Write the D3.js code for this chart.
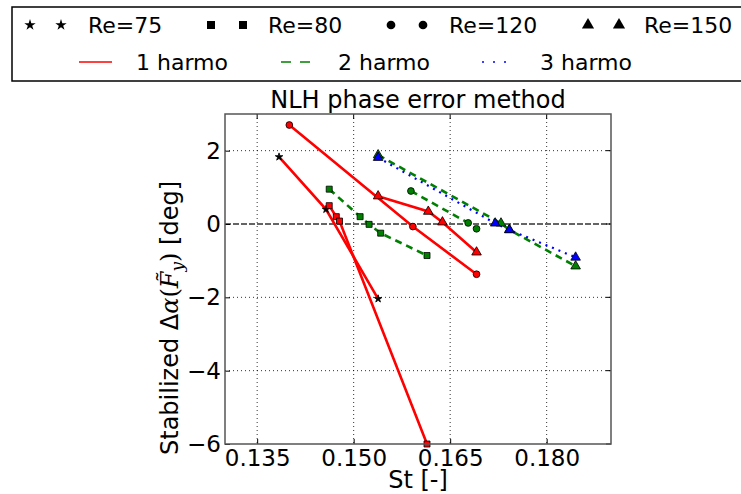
<!DOCTYPE html>
<html><head><meta charset="utf-8">
<script src="https://cdn.jsdelivr.net/npm/d3@7"></script>
<style>body{margin:0;background:#fff} text{font-family:"DejaVu Sans",sans-serif;fill:#000}</style>
</head><body><svg id="c" width="741" height="494"></svg>
<script>
const reLabels = ["Re=75","Re=80","Re=120","Re=150"];
const harmoLabels = ["1 harmo","2 harmo","3 harmo"];
const xTicks = [0.135,0.150,0.165,0.180];
const yTicks = [-6,-4,-2,0,2];

// Re=75
const st75h1 = [0.1384,0.1457,0.1538];
const da75h1 = [1.83,0.40,-2.04];
// Re=80
const st80h1 = [0.1462,0.1473,0.1478,0.1614];
const da80h1 = [0.50,0.20,0.08,-6.0];
const st80h2 = [0.1462,0.1510,0.1524,0.1542,0.1614];
const da80h2 = [0.95,0.20,-0.01,-0.25,-0.86];
// Re=120
const st120h1 = [0.1400,0.1592,0.1691];
const da120h1 = [2.70,-0.07,-1.37];
const st120h2 = [0.1589,0.1678,0.1691];
const da120h2 = [0.90,0.03,-0.13];
// Re=150
const st150h1 = [0.1538,0.1616,0.1638,0.1691];
const da150h1 = [0.76,0.34,0.05,-0.77];
const st150h2 = [0.1538,0.1729,0.1742,0.1845];
const da150h2 = [1.88,0.02,-0.16,-1.15];
const st150h3 = [0.1538,0.1720,0.1742,0.1845];
const da150h3 = [1.81,0.02,-0.16,-0.91];

const harmoColors = ["#ff0000","#008000","#0000ff"];
const harmoDash = [null,"7,5","2,5"];
const reSymbols = [d3.symbolStar,d3.symbolSquare,d3.symbolCircle,d3.symbolTriangle];
const reSizes = [18,36,36,40];

const series = [
  {re:0,h:0,st:st75h1,da:da75h1},
  {re:1,h:0,st:st80h1,da:da80h1},
  {re:1,h:1,st:st80h2,da:da80h2},
  {re:2,h:0,st:st120h1,da:da120h1},
  {re:2,h:1,st:st120h2,da:da120h2},
  {re:3,h:0,st:st150h1,da:da150h1},
  {re:3,h:1,st:st150h2,da:da150h2},
  {re:3,h:2,st:st150h3,da:da150h3}
];

const svg = d3.select("#c");
const L=225,R=611,T=114,B=444;
const x = d3.scaleLinear().domain([0.13,0.19]).range([L,R]);
const y = d3.scaleLinear().domain([-6,3]).range([B,T]);

svg.append("defs").append("clipPath").attr("id","clip")
  .append("rect").attr("x",L).attr("y",T).attr("width",R-L).attr("height",B-T);

// grid
const grid = svg.append("g");
grid.selectAll("line.gx").data(xTicks).join("line")
  .attr("x1",d=>x(d)).attr("x2",d=>x(d)).attr("y1",T).attr("y2",B)
  .attr("stroke","#000").attr("stroke-width",1).attr("stroke-dasharray","1,3").attr("opacity",0.8);
grid.selectAll("line.gy").data(yTicks.filter(v=>v!==0 && v!==-6)).join("line")
  .attr("x1",L).attr("x2",R).attr("y1",d=>y(d)).attr("y2",d=>y(d))
  .attr("stroke","#000").attr("stroke-width",1).attr("stroke-dasharray","1,3").attr("opacity",0.8);

// zero line
svg.append("line").attr("x1",L).attr("x2",R).attr("y1",y(0)).attr("y2",y(0))
  .attr("stroke","#333").attr("stroke-width",1.5).attr("stroke-dasharray","6,2");

// series
const plot = svg.append("g").attr("clip-path","url(#clip)");
const line = d3.line().x(d=>x(d[0])).y(d=>y(d[1]));
series.forEach(s=>{
  const pts = s.st.map((v,i)=>[v,s.da[i]]);
  plot.append("path").datum(pts).attr("d",line).attr("fill","none")
    .attr("stroke",harmoColors[s.h]).attr("stroke-width",s.h===2?2.2:2.6)
    .attr("stroke-dasharray",harmoDash[s.h]);
  svg.append("g").selectAll("path").data(pts).join("path")
    .attr("d",d3.symbol().type(reSymbols[s.re]).size(reSizes[s.re]))
    .attr("transform",d=>`translate(${x(d[0])},${y(d[1])})`)
    .attr("fill",s.re===0?"#000":harmoColors[s.h]).attr("stroke","#000").attr("stroke-width",0.8);
});

// axes
const ax = svg.append("g").attr("transform",`translate(0,${B})`)
  .call(d3.axisBottom(x).tickValues(xTicks).tickFormat(d3.format(".3f")).tickSize(-5).tickPadding(6));
const ay = svg.append("g").attr("transform",`translate(${L},0)`)
  .call(d3.axisLeft(y).tickValues(yTicks).tickFormat(d3.format("d")).tickSize(-5).tickPadding(4));
[ax,ay].forEach(g=>{
  g.select(".domain").remove();
  g.selectAll(".tick line").attr("stroke","#000").attr("stroke-width",1);
  g.selectAll(".tick text").style("font-size","23px").style("font-family","DejaVu Sans").attr("fill","#000");
});
// top/right ticks
svg.append("g").selectAll("line").data(xTicks).join("line")
  .attr("x1",d=>x(d)).attr("x2",d=>x(d)).attr("y1",T).attr("y2",T+5).attr("stroke","#000");
svg.append("g").selectAll("line").data(yTicks).join("line")
  .attr("x1",R-5).attr("x2",R).attr("y1",d=>y(d)).attr("y2",d=>y(d)).attr("stroke","#000");

// frame
svg.append("rect").attr("x",L).attr("y",T).attr("width",R-L).attr("height",B-T)
  .attr("fill","none").attr("stroke","#555").attr("stroke-width",1.5);

// title & labels
svg.append("text").attr("x",(L+R)/2).attr("y",108).attr("text-anchor","middle")
  .style("font-size","24px").text("NLH phase error method");
svg.append("text").attr("x",(L+R)/2).attr("y",488).attr("text-anchor","middle")
  .style("font-size","24px").text("St [-]");
const yl = svg.append("text").attr("transform","translate(178,455) rotate(-90)")
  .attr("text-anchor","start").style("font-size","24px");
yl.append("tspan").text("Stabilized Δ");
yl.append("tspan").style("font-family","DejaVu Serif").style("font-style","italic").text("α");
yl.append("tspan").style("font-family","DejaVu Serif").text("(");
yl.append("tspan").style("font-family","DejaVu Serif").style("font-style","italic").text("F\u0303");
yl.append("tspan").style("font-family","DejaVu Serif").style("font-style","italic").style("font-size","17px").attr("dy",5).text("y");
yl.append("tspan").style("font-family","DejaVu Serif").attr("dy",-5).text(")");
yl.append("tspan").text(" [deg]");

// legend
const lg = svg.append("g");
lg.append("rect").attr("x",12).attr("y",7).attr("width",740).attr("height",74)
  .attr("fill","#fff").attr("stroke","#000").attr("stroke-width",1.5);
const mkX = [[30,61],[211,243],[391,423],[588,619]];
const txX = [88,268,449,644];
const legSizes = [40,64,60,64];
reLabels.forEach((lab,i)=>{
  mkX[i].forEach(mx=>{
    lg.append("path").attr("d",d3.symbol().type(reSymbols[i]).size(legSizes[i]))
      .attr("transform",`translate(${mx},25)`).attr("fill","#000");
  });
  lg.append("text").attr("x",txX[i]).attr("y",33).style("font-size","22px").text(lab);
});
const lnX = [[79,112],[281,310],[482,510]];
const lnTx = [136,338,540];
harmoLabels.forEach((lab,i)=>{
  lg.append("line").attr("x1",lnX[i][0]).attr("x2",lnX[i][1]).attr("y1",62).attr("y2",62)
    .attr("stroke",harmoColors[i]).attr("stroke-width",1.5)
    .attr("stroke-dasharray",i===1?"10,9":(i===2?"2,9":null));
  lg.append("text").attr("x",lnTx[i]).attr("y",70).style("font-size","22px").text(lab);
});
</script></body></html>
